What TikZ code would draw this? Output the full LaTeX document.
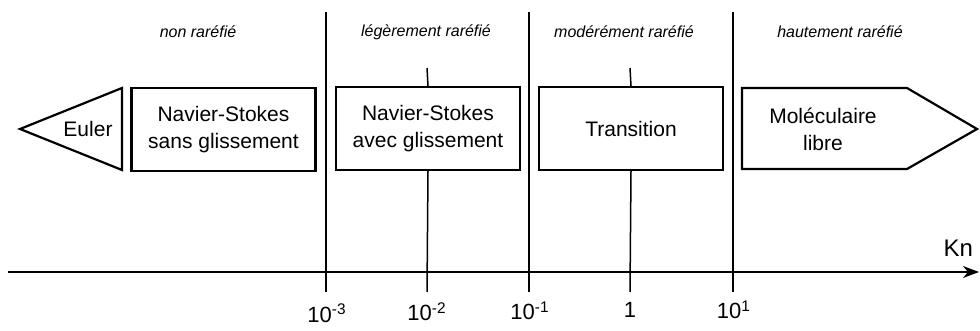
\documentclass[tikz,border=0pt]{standalone}
\usepackage{fontspec}
\setmainfont{Liberation Sans}
\usetikzlibrary{arrows.meta}

\begin{document}
\begin{tikzpicture}[x=0.5pt,y=-0.5pt,>={Stealth[length=8pt,width=6pt,inset=2.5pt]},
  regime/.style={draw,line width=1.1pt,minimum width=92pt,minimum height=41.5pt,
    align=center,inner sep=0pt,font=\fontsize{10.5}{13.5}\selectfont},
  zone/.style={font=\fontsize{8}{10}\selectfont\itshape},
  valeur/.style={anchor=base,font=\fontsize{11}{13}\selectfont}]
\useasboundingbox (0,0) rectangle (980,331);
% regimes de rarefaction
\node[zone] (non) at (198,32) {non raréfié};
\node[zone] (leg) at (426,32) {légèrement raréfié};
\node[zone] (mod) at (624,32) {modérément raréfié};
\node[zone] (haut) at (840,32) {hautement raréfié};
% separations
\foreach \x in {326,529,733}
  \draw[line width=0.75pt] (\x,12) -- (\x,292);
% modeles
\draw[line width=1.1pt] (122,88) -- (122,170) -- (20,129) -- cycle;
\node[font=\fontsize{10.5}{13.5}\selectfont] (euler) at (88,129) {Euler};
\node[regime] (nssans) at (223.5,129.5) {Navier-Stokes\\sans glissement};
\node[regime] (nsavec) at (428,128.5) {Navier-Stokes\\avec glissement};
\node[regime] (trans) at (631,128.5) {Transition};
\draw[line width=1.1pt] (742,88) -- (907,88) -- (977,129) -- (907,169) -- (742,169) -- cycle;
\node[align=center,font=\fontsize{10.5}{13.5}\selectfont] (libre) at (823,129) {Moléculaire\\libre};
% graduations
\coordinate (g2) at (427,68);
\coordinate (g2b) at (427,292);
\coordinate (g0) at (630,68);
\coordinate (g0b) at (630,292);
\draw[line width=0.75pt] (g2) -- (nsavec.north);
\draw[line width=0.75pt] (nsavec.south) -- (g2b);
\draw[line width=0.75pt] (g0) -- (trans.north);
\draw[line width=0.75pt] (trans.south) -- (g0b);
% axe
\coordinate (debut) at (8,272);
\coordinate (fin) at (979,272);
\draw[->,line width=0.75pt] (debut) -- (fin);
\node[anchor=base east,font=\fontsize{12}{14}\selectfont] (kn) at (980,257) {Kn};
\node[valeur] (m3) at (327,322) {10\textsuperscript{-3}};
\node[valeur] (m2) at (427,321) {10\textsuperscript{-2}};
\node[valeur] (m1) at (530,320) {10\textsuperscript{-1}};
\node[valeur] (un) at (630,318) {1};
\node[valeur] (p1) at (734,319) {10\textsuperscript{1}};
\end{tikzpicture}
\end{document}
